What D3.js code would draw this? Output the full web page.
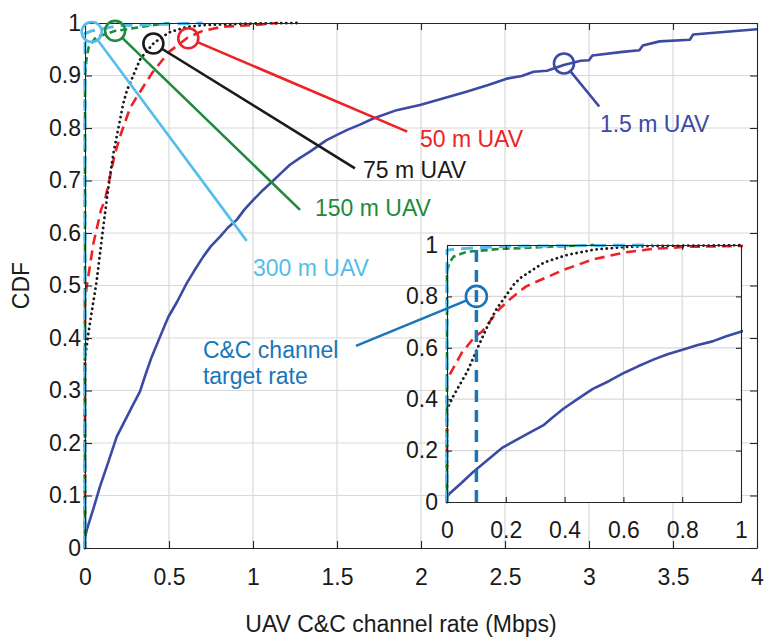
<!DOCTYPE html>
<html>
<head>
<meta charset="utf-8">
<script src="https://cdn.jsdelivr.net/npm/d3@7"></script>
<style>
  body { margin: 0; background: #fff; }
  svg text { font-family: "Liberation Sans", Arial, sans-serif; }
</style>
</head>
<body>
<div id="chart"></div>
<script>
// ---- data ----
const xTicks = [0, 0.5, 1, 1.5, 2, 2.5, 3, 3.5, 4];
const yTicks = [0, 0.1, 0.2, 0.3, 0.4, 0.5, 0.6, 0.7, 0.8, 0.9, 1];
const insetTicks = [0, 0.2, 0.4, 0.6, 0.8, 1];

const uav15X = [0, 0.01, 0.05, 0.089, 0.14, 0.189, 0.23, 0.278, 0.327, 0.36, 0.397, 0.45, 0.496, 0.55, 0.605, 0.65, 0.704, 0.75, 0.804, 0.85, 0.903, 0.95, 1.002, 1.06, 1.121, 1.17, 1.22, 1.28, 1.339, 1.438, 1.5, 1.558, 1.64, 1.716, 1.855, 1.994, 2.13, 2.27, 2.4, 2.51, 2.6, 2.67, 2.75, 2.85, 2.95, 3.0, 3.02, 3.2, 3.3, 3.32, 3.42, 3.6, 3.62, 3.8, 4.0];
const uav15Y = [0.02, 0.034, 0.075, 0.117, 0.165, 0.212, 0.238, 0.268, 0.298, 0.33, 0.364, 0.405, 0.44, 0.47, 0.504, 0.528, 0.555, 0.575, 0.593, 0.61, 0.625, 0.645, 0.663, 0.682, 0.70, 0.715, 0.73, 0.743, 0.755, 0.777, 0.787, 0.796, 0.807, 0.818, 0.834, 0.844, 0.856, 0.869, 0.882, 0.894, 0.899, 0.907, 0.909, 0.92, 0.928, 0.929, 0.938, 0.945, 0.948, 0.957, 0.965, 0.968, 0.978, 0.983, 0.988];

const uav50X = [0, 0, 0.01, 0.05, 0.096, 0.119, 0.179, 0.215, 0.268, 0.3, 0.4, 0.5, 0.61, 0.7, 0.82, 1.0, 1.15];
const uav50Y = [0, 0.47, 0.498, 0.58, 0.645, 0.663, 0.752, 0.79, 0.838, 0.855, 0.905, 0.945, 0.972, 0.985, 0.993, 0.996, 1.0];

const uav75X = [0, 0, 0.02, 0.07, 0.109, 0.136, 0.169, 0.228, 0.25, 0.33, 0.41, 0.5, 0.6, 0.7, 1.0, 1.26];
const uav75Y = [0, 0.36, 0.409, 0.51, 0.612, 0.68, 0.752, 0.847, 0.872, 0.932, 0.962, 0.982, 0.992, 0.996, 0.999, 1.0];

const uav150X = [0, 0, 0.01, 0.023, 0.068, 0.136, 0.179, 0.25, 0.36, 0.5];
const uav150Y = [0, 0.90, 0.935, 0.955, 0.974, 0.98, 0.985, 0.988, 0.994, 1.0];

const uav300X = [0, 0, 0.04, 0.2, 0.7];
const uav300Y = [0, 0.98, 0.985, 0.995, 1.0];

const targetRate = 0.1;

// callouts: circle (data coords), line end (data coords), label anchor (data coords)
const callouts = [
  {name: "300 m UAV", color: "#55bde9", cx: 0.04, cy: 0.983, ex: 0.9625, ey: 0.585, lx: 1.0, ly: 0.519},
  {name: "150 m UAV", color: "#1f8a3c", cx: 0.179, cy: 0.985, ex: 1.28, ey: 0.644, lx: 1.369, ly: 0.632},
  {name: "75 m UAV",  color: "#1a1a1a", cx: 0.407, cy: 0.961, ex: 1.607, ey: 0.723, lx: 1.655, ly: 0.705},
  {name: "50 m UAV",  color: "#ec2227", cx: 0.615, cy: 0.971, ex: 1.918, ey: 0.793, lx: 1.994, ly: 0.764},
  {name: "1.5 m UAV", color: "#3b4ba3", cx: 2.851, cy: 0.923, ex: 3.061, ey: 0.841, lx: 3.065, ly: 0.792}
];

// ---- layout ----
const width = 766, height = 637;
const mainL = 85, mainR = 757, mainT = 23, mainB = 548;
const insL = 447, insR = 741, insT = 245, insB = 502;
const font = 23;

const svg = d3.select("#chart").append("svg")
  .attr("width", width).attr("height", height);

const x = d3.scaleLinear().domain([0, 4]).range([mainL, mainR]);
const y = d3.scaleLinear().domain([0, 1]).range([mainB, mainT]);
const ix = d3.scaleLinear().domain([0, 1]).range([insL, insR]);
const iy = d3.scaleLinear().domain([0, 1]).range([insB, insT]);

const series = [
  {xs: uav15X, ys: uav15Y, color: "#3b4ba3", dash: null, w: 2.6},
  {xs: uav50X, ys: uav50Y, color: "#ec2227", dash: "10 6", w: 2.6},
  {xs: uav75X, ys: uav75Y, color: "#1a1a1a", dash: "0.1 5", w: 2.8, cap: "round"},
  {xs: uav150X, ys: uav150Y, color: "#1f8a3c", dash: "7 4", w: 2.6},
  {xs: uav300X, ys: uav300Y, color: "#55bde9", dash: "12 7", w: 3}
];

function drawPanel(g, sx, sy, xt, yt, clipId, tickLen, padX, padY) {
  const [x0, x1] = sx.range(), [y0, y1] = sy.range();
  g.append("rect").attr("x", x0).attr("y", y1).attr("width", x1 - x0).attr("height", y0 - y1).attr("fill", "#fff");
  // grid
  g.append("g").selectAll("line").data(xt.slice(1, -1)).join("line")
    .attr("x1", d => sx(d)).attr("x2", d => sx(d)).attr("y1", y0).attr("y2", y1)
    .attr("stroke", "#d9d9d9").attr("stroke-width", 1.2);
  g.append("g").selectAll("line").data(yt.slice(1, -1)).join("line")
    .attr("y1", d => sy(d)).attr("y2", d => sy(d)).attr("x1", x0).attr("x2", x1)
    .attr("stroke", "#d9d9d9").attr("stroke-width", 1.2);

  g.append("clipPath").attr("id", clipId).append("rect")
    .attr("x", x0 - 2).attr("y", y1 - 3).attr("width", x1 - x0 + 4).attr("height", y0 - y1 + 5);

  const curves = g.append("g").attr("clip-path", `url(#${clipId})`);
  series.forEach(s => {
    const pts = s.xs.map((v, i) => [v, s.ys[i]]);
    curves.append("path")
      .attr("d", d3.line().x(d => sx(d[0])).y(d => sy(d[1]))(pts))
      .attr("fill", "none").attr("stroke", s.color).attr("stroke-width", s.w)
      .attr("stroke-dasharray", s.dash).attr("stroke-linecap", s.cap || "butt")
      .attr("stroke-linejoin", "round");
  });

  // axes (inward ticks, MATLAB style)
  const fmt = d => d3.format("~g")(d);
  const ax = g.append("g").attr("transform", `translate(0,${y0})`)
    .call(d3.axisBottom(sx).tickValues(xt).tickFormat(fmt).tickSizeInner(-tickLen).tickSizeOuter(0).tickPadding(padX));
  const ay = g.append("g").attr("transform", `translate(${x0},0)`)
    .call(d3.axisLeft(sy).tickValues(yt).tickFormat(fmt).tickSizeInner(-tickLen).tickSizeOuter(0).tickPadding(padY));
  const at = g.append("g").attr("transform", `translate(0,${y1})`)
    .call(d3.axisTop(sx).tickValues(xt).tickFormat("").tickSizeInner(-tickLen).tickSizeOuter(0));
  const ar = g.append("g").attr("transform", `translate(${x1},0)`)
    .call(d3.axisRight(sy).tickValues(yt).tickFormat("").tickSizeInner(-tickLen).tickSizeOuter(0));
  [ax, ay, at, ar].forEach(a => {
    a.selectAll("path, line").attr("stroke", "#262626").attr("stroke-width", 1.1);
    a.selectAll("text").attr("font-size", font).attr("fill", "#1a1a1a")
      .style("font-family", '"Liberation Sans", Arial, sans-serif');
  });
}

// main plot
const mainG = svg.append("g");
drawPanel(mainG, x, y, xTicks, yTicks, "clipMain", 7, 21, 4);

// callouts
callouts.forEach(c => {
  const cx = x(c.cx), cy = y(c.cy), ex = x(c.ex), ey = y(c.ey);
  const r = 10;
  const len = Math.hypot(ex - cx, ey - cy);
  mainG.append("circle").attr("cx", cx).attr("cy", cy).attr("r", r)
    .attr("fill", "none").attr("stroke", c.color).attr("stroke-width", 2.6);
  mainG.append("line")
    .attr("x1", cx + r * (ex - cx) / len).attr("y1", cy + r * (ey - cy) / len)
    .attr("x2", ex).attr("y2", ey)
    .attr("stroke", c.color).attr("stroke-width", 2.6);
  mainG.append("text").attr("x", x(c.lx)).attr("y", y(c.ly))
    .attr("font-size", font).attr("fill", c.color).text(c.name);
});

// inset
const insG = svg.append("g");
drawPanel(insG, ix, iy, insetTicks, insetTicks, "clipInset", 5, 20, 9);

const ccColor = "#1a75bb";
insG.append("line")
  .attr("x1", ix(targetRate)).attr("x2", ix(targetRate))
  .attr("y1", iy(0)).attr("y2", iy(1))
  .attr("stroke", ccColor).attr("stroke-width", 3.5).attr("stroke-dasharray", "12 8");

// C&C target rate callout
{
  const cx = ix(targetRate), cy = iy(0.8), r = 10.5;
  const ex = x(1.613), ey = y(0.385);
  const len = Math.hypot(ex - cx, ey - cy);
  svg.append("circle").attr("cx", cx).attr("cy", cy).attr("r", r)
    .attr("fill", "none").attr("stroke", ccColor).attr("stroke-width", 2.6);
  svg.append("line")
    .attr("x1", cx + r * (ex - cx) / len).attr("y1", cy + r * (ey - cy) / len)
    .attr("x2", ex).attr("y2", ey)
    .attr("stroke", ccColor).attr("stroke-width", 2.6);
  const t = svg.append("text").attr("font-size", font).attr("fill", ccColor);
  t.append("tspan").attr("x", x(0.702)).attr("y", y(0.362)).text("C&C channel");
  t.append("tspan").attr("x", x(0.702)).attr("y", y(0.312)).text("target rate");
}

// axis titles
svg.append("text").attr("x", 401).attr("y", 632)
  .attr("text-anchor", "middle").attr("font-size", font).attr("fill", "#1a1a1a")
  .text("UAV C&C channel rate (Mbps)");
svg.append("text")
  .attr("transform", `translate(29,${(mainT + mainB) / 2}) rotate(-90)`)
  .attr("text-anchor", "middle").attr("font-size", font).attr("fill", "#1a1a1a")
  .text("CDF");
</script>
</body>
</html>
